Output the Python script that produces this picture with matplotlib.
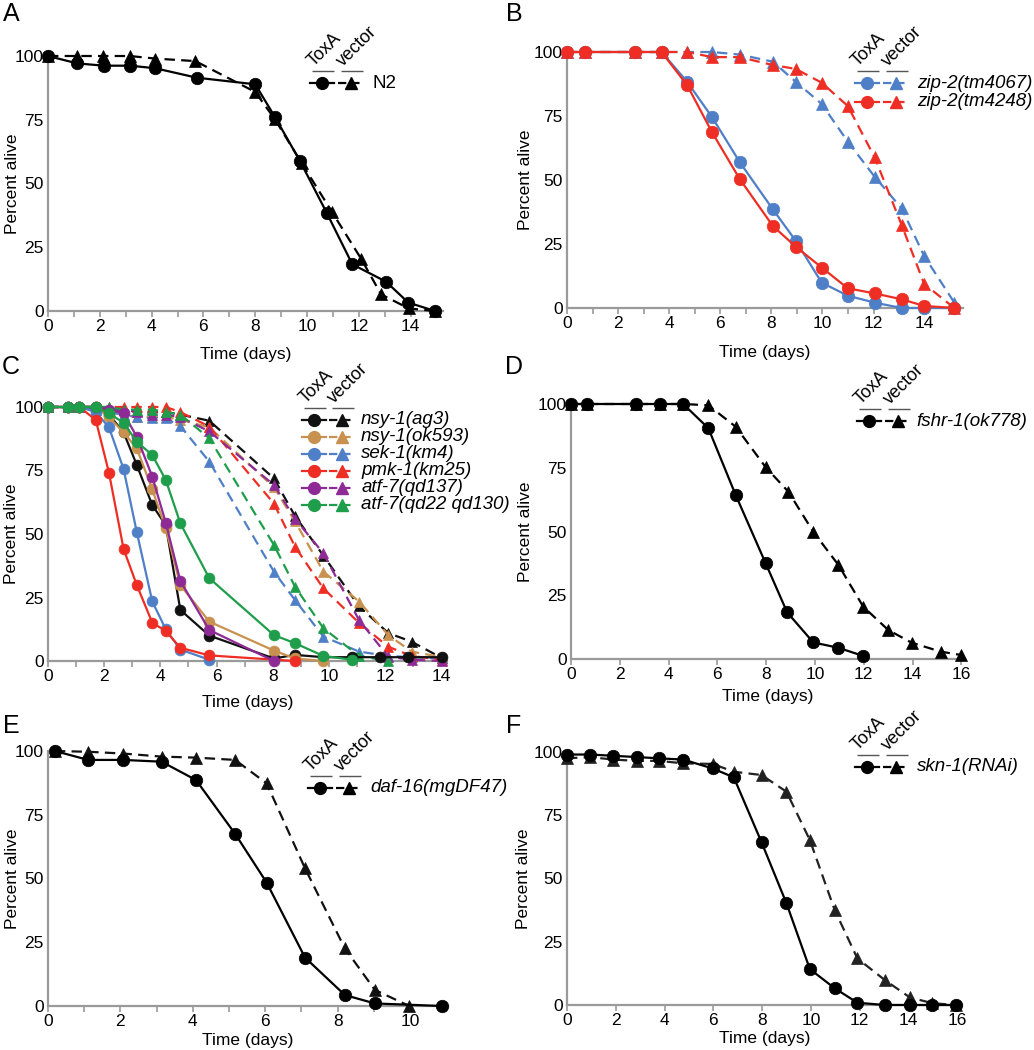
import numpy as np
import matplotlib
matplotlib.use("Agg")
import matplotlib.pyplot as plt
from matplotlib.transforms import offset_copy

plt.rcParams['font.family'] = ['Liberation Sans', 'DejaVu Sans']
plt.rcParams['lines.scale_dashes'] = False

# ---------------- data ----------------
# Panel A (N2)
a_t_toxa = [0, 1.13, 2.16, 3.17, 4.14, 5.74, 8.0, 8.76, 9.73, 10.76, 11.75, 13.05, 13.91, 14.94]
a_toxa = [100, 97.1, 96.2, 96.2, 95.2, 91.5, 88.9, 76.1, 58.8, 38.5, 18.3, 11.5, 3.3, 0]
a_t_vec = [0, 1.13, 2.14, 3.16, 4.13, 5.69, 8.0, 8.76, 9.8, 10.96, 12.1, 12.86, 13.93, 14.94]
a_vec = [100, 100, 100, 100, 99, 98, 85.9, 75.2, 57.9, 38.9, 20.3, 6.5, 1, 0]

# Panel B (zip-2)
b_t = [0, 0.70, 2.68, 3.70, 4.70, 5.68, 6.76, 8.06, 8.95, 9.97, 10.99, 12.04, 13.10, 13.98, 15.16]
b_toxa_4067 = [100, 100, 100, 100, 88.4, 74.5, 57.0, 38.5, 26.3, 9.9, 4.8, 2.1, 0, 0, 0]
b_toxa_4248 = [100, 100, 100, 100, 87.1, 68.6, 50.4, 32.0, 24.0, 15.8, 7.7, 5.7, 3.4, 0.8, 0]
b_vec_4067 = [100, 100, 100, 100, 100, 100, 99, 96.2, 88.4, 79.7, 65.0, 51.3, 38.9, 20.3, 2.1]
b_vec_4248 = [100, 100, 100, 100, 100, 98, 98, 94.9, 93.4, 88.0, 78.9, 58.9, 32.4, 9.4, 0]

# Panel C (p38 MAPK pathway)
c_t_toxa = [0, 0.70, 1.12, 1.70, 2.17, 2.69, 3.16, 3.71, 4.19, 4.71, 5.74, 8.04, 8.79, 9.80, 10.81, 11.81, 12.82, 14.01]
c_t_vec = [0, 0.70, 1.12, 1.70, 2.17, 2.69, 3.16, 3.71, 4.19, 4.71, 5.74, 8.04, 8.79, 9.80, 11.07, 12.11, 12.94, 14.01]
nan = float('nan')
c_strains = ['nsy-1(ag3)', 'nsy-1(ok593)', 'sek-1(km4)', 'pmk-1(km25)', 'atf-7(qd137)', 'atf-7(qd22 qd130)']
c_colors = ['#111111', '#C8914F', '#4F7FC6', '#EE2E24', '#8E2A96', '#1E9E4A']
c_toxa = [
    [100, 100, 100, 100, 97, 90, 77.2, 61.4, 53.5, 20.1, 10.0, 1.0, 2.4, 1.5, 1.5, 1.5, 1.5, 1.5],
    [100, 100, 100, 100, 96, 90, 83.7, 67.6, 52.2, 29.9, 15.5, 4.1, 1.0, 0, nan, nan, nan, nan],
    [100, 100, 100, 98, 92, 75.6, 50.7, 23.5, 12.5, 4.5, 0.5, nan, nan, nan, nan, nan, nan, nan],
    [100, 100, 100, 94.9, 74.1, 44.1, 29.9, 15.1, 11.8, 5.2, 2.2, nan, 0, nan, nan, nan, nan, nan],
    [100, 100, 100, 100, 99, 97.5, 88.3, 72.6, 54.5, 31.5, 12.2, 0, nan, nan, nan, nan, nan, nan],
    [100, 100, 100, 100, 97.5, 93.8, 86.3, 81.1, 71.3, 54.2, 32.6, 10.2, 7.0, 2.0, 0.5, nan, nan, nan],
]
c_vec = [
    [100, 100, 100, 100, 99, 99, 98.5, 98, 98, 97, 94.6, 71.9, 57.1, 41.5, 21.5, 11, 7.6, 1.2],
    [100, 100, 100, 100, 98, 97, 96, 96, 96, 95, 92, 68.4, 55, 35.2, 23.4, 10.2, 3.7, 1.5],
    [100, 100, 100, 99, 98, 97, 96, 95.5, 95.5, 92.5, 78.5, 35.2, 24.0, 9.6, 3.7, 2, 1.5, 1],
    [100, 100, 100, 100, 100, 100, 100, 100, 100, 98, 92.3, 62, 45, 28.6, 15, 5.6, 2, 0.5],
    [100, 100, 100, 100, 99, 99, 98, 97, 97, 96, 90.4, 69.3, 56, 42.4, 16.1, 1.7, 0.5, 0],
    [100, 100, 100, 100, 100, 99, 99, 99, 98, 97, 87.7, 45.7, 29.3, 12.9, 2, 0, nan, nan],
]

# Panel D (fshr-1)
d_t_toxa = [0, 0.67, 2.65, 3.65, 4.60, 5.63, 6.75, 7.98, 8.86, 9.93, 10.96, 11.98]
d_toxa = [100, 100, 100, 100, 100, 90.5, 64.3, 37.5, 18.3, 6.5, 4.4, 1.2]
d_t_vec = [0, 0.67, 2.65, 3.65, 4.60, 5.63, 6.75, 7.98, 8.91, 9.93, 10.96, 11.98, 13.0, 13.96, 15.15, 15.97]
d_vec = [100, 100, 100, 100, 100, 99.5, 91.1, 75.2, 65.6, 49.9, 36.9, 20.5, 11.4, 6.4, 2.9, 1.6]

# Panel E (daf-16)
e_t = [0.19, 1.11, 2.08, 3.14, 4.09, 5.17, 6.04, 7.10, 8.20, 9.03, 9.98, 10.88]
e_toxa = [100, 96.5, 96.5, 95.8, 88.6, 67.5, 48.4, 19.0, 4.3, 1.0, nan, 0]
e_vec = [100, 99.7, 99, 97.8, 97.4, 96.5, 87.3, 54.0, 22.6, 6.3, 0, nan]

# Panel F (skn-1 RNAi)
f_t = [0, 0.94, 1.90, 2.86, 3.78, 4.77, 5.97, 6.84, 7.98, 9.0, 9.96, 10.98, 11.91, 13.03, 14.06, 14.99, 15.97]
f_toxa = [99, 99, 98.5, 98, 97.5, 97, 93.5, 90, 64.3, 40.2, 14.2, 6.6, 0.9, 0, 0, 0, 0]
f_vec = [97.5, 98, 97, 96.5, 96.5, 95.5, 95.3, 92.2, 90.9, 84.3, 65.2, 37.5, 18.4, 9.9, 3.0, 0.7, 0]

# ---------------- styling helpers ----------------
W, H = 1034, 1050
fig = plt.figure(figsize=(W / 100, H / 100), dpi=100)
GRAY = '#9a9a9a'
DASH = (0, (7.5, 4.5))


def make_axes(left, right, top, bottom, xmax, minor_every_day, xlabel_off, ylabel_off):
    ax = fig.add_axes([left / W, 1 - bottom / H, (right - left) / W, (bottom - top) / H])
    ax.set_xlim(0, xmax)
    ax.set_ylim(0, 100)
    for s in ['top', 'right']:
        ax.spines[s].set_visible(False)
    for s in ['left', 'bottom']:
        ax.spines[s].set_color(GRAY)
        ax.spines[s].set_linewidth(1.6)
    ax.set_yticks([0, 25, 50, 75, 100])
    xmaj = np.arange(0, int(xmax) + 1, 2)
    ax.set_xticks(xmaj)
    if minor_every_day:
        ax.set_xticks(np.arange(1, int(xmax) + 1, 2), minor=True)
    ax.tick_params(axis='x', which='both', direction='out', length=4, width=1.2,
                   color=GRAY, labelsize=12.5, pad=2)
    ax.tick_params(axis='y', length=0, labelsize=12.5, pad=3)
    ax.set_xlabel('Time (days)', fontsize=12.5)
    ax.set_ylabel('Percent alive', fontsize=12.5)
    ax.xaxis.label.set_va('center')
    ax.yaxis.label.set_va('center')
    axh = bottom - top
    axw = right - left
    ax.xaxis.set_label_coords(0.5, -xlabel_off / axh)
    ax.yaxis.set_label_coords(-ylabel_off / axw, 0.5)
    return ax


def series(ax, t, y, color, dashed, marker, ms, z=3):
    t = np.asarray(t, float)
    y = np.asarray(y, float)
    m = np.isfinite(y)
    ax.plot(t[m], y[m], color=color, linestyle=DASH if dashed else '-', lw=1.6,
            marker=marker, ms=ms, mec=color, mfc=color, mew=0.5, clip_on=False, zorder=z)


def legend(ax, fx, fy, labels, colors, italic=True, dy=17.5, tri=29, txt=50):
    def tr(dx, dyy):
        return offset_copy(ax.transAxes, fig=fig, x=dx, y=dyy, units='dots')
    # header
    kw = dict(clip_on=False, color='#555555', lw=1.0, solid_capstyle='butt')
    ax.plot([fx, fx], [fy, fy], alpha=0)
    ax.add_line(plt.Line2D([-10, 12], [12, 12], transform=tr(0, 0) + offset_zero(ax, fx, fy), **kw))
    ax.add_line(plt.Line2D([tri - 10, tri + 12], [12, 12], transform=tr(0, 0) + offset_zero(ax, fx, fy), **kw))
    ax.text(fx, fy, 'ToxA', transform=tr(-9, 16), rotation=45, rotation_mode='anchor',
            ha='left', va='baseline', fontsize=13, clip_on=False)
    ax.text(fx, fy, 'vector', transform=tr(tri - 8, 16), rotation=45, rotation_mode='anchor',
            ha='left', va='baseline', fontsize=13, clip_on=False)
    for i, (lab, c) in enumerate(zip(labels, colors)):
        off = offset_zero(ax, fx, fy)
        yy = -i * dy
        ax.add_line(plt.Line2D([-12, 0, 12], [yy, yy, yy], color=c, lw=1.6, marker='o', markevery=[1],
                               ms=8.5, mfc=c, mec=c, transform=tr(0, 0) + off, clip_on=False))
        ax.add_line(plt.Line2D([tri - 13, tri, tri + 13], [yy, yy, yy], color=c, lw=1.6, ls=(0, (6, 3.5)),
                               marker='^', markevery=[1], ms=8, mfc=c, mec=c,
                               transform=tr(0, 0) + off, clip_on=False))
        ax.text(fx, fy, lab, transform=tr(txt, yy), ha='left', va='center', fontsize=13.5,
                style='italic' if italic else 'normal', clip_on=False)


from matplotlib.transforms import Affine2D


def offset_zero(ax, fx, fy):
    # translate pixel-offset coordinates to the anchor point (axes fraction fx, fy)
    x0, y0 = ax.transAxes.transform((fx, fy))
    return Affine2D().translate(x0, y0)


def legend2(ax, fx, fy, labels, colors, italic=True, dy=17.5, tri=29, txt=50):
    # all legend elements are laid out in pixel offsets from the anchor
    x0, y0 = ax.transAxes.transform((fx, fy))
    base = Affine2D().translate(x0, y0)
    kw = dict(clip_on=False, color='#555555', lw=1.0, solid_capstyle='butt', transform=base)
    ax.add_line(plt.Line2D([-10, 12], [12, 12], **kw))
    ax.add_line(plt.Line2D([tri - 10, tri + 12], [12, 12], **kw))
    ax.text(-9, 16, 'ToxA', transform=base, rotation=45, rotation_mode='anchor',
            ha='left', va='baseline', fontsize=13, clip_on=False)
    ax.text(tri - 8, 16, 'vector', transform=base, rotation=45, rotation_mode='anchor',
            ha='left', va='baseline', fontsize=13, clip_on=False)
    for i, (lab, c) in enumerate(zip(labels, colors)):
        yy = -i * dy
        ax.add_line(plt.Line2D([-12, 0, 12], [yy, yy, yy], color=c, lw=1.6, marker='o', markevery=[1],
                               ms=8.5, mfc=c, mec=c, transform=base, clip_on=False))
        ax.add_line(plt.Line2D([tri - 13, tri, tri + 13], [yy, yy, yy], color=c, lw=1.6, ls=(0, (6, 3.5)),
                               marker='^', markevery=[1], ms=8, mfc=c, mec=c,
                               transform=base, clip_on=False))
        ax.text(txt, yy, lab, transform=base, ha='left', va='center', fontsize=13.5,
                style='italic' if italic else 'normal', clip_on=False)


# ---------------- panels ----------------
axA = make_axes(48, 443, 56, 311, 15.25, True, 44, 36)
axB = make_axes(567, 963, 52, 308, 15.5, True, 44, 42)
axC = make_axes(48, 447, 407, 661, 14.2, True, 41, 36)
axD = make_axes(571, 965, 404, 659, 16.15, False, 38, 46)
axE = make_axes(48, 448, 751, 1006, 11.05, True, 34, 36)
axF = make_axes(567, 962, 752, 1005, 16.2, False, 33, 44)

# A
series(axA, a_t_vec, a_vec, 'black', True, '^', 8)
series(axA, a_t_toxa, a_toxa, 'black', False, 'o', 9)
# B
BLUE, RED = '#4F7FC6', '#EE2E24'
series(axB, b_t, b_vec_4067, BLUE, True, '^', 8)
series(axB, b_t, b_vec_4248, RED, True, '^', 8)
series(axB, b_t, b_toxa_4067, BLUE, False, 'o', 9)
series(axB, b_t, b_toxa_4248, RED, False, 'o', 9)
# C
for yv, c in zip(c_vec, c_colors):
    series(axC, c_t_vec, yv, c, True, '^', 7.5)
for yv, c in zip(c_toxa, c_colors):
    series(axC, c_t_toxa, yv, c, False, 'o', 7.8)
# D
series(axD, d_t_vec, d_vec, 'black', True, '^', 8)
series(axD, d_t_toxa, d_toxa, 'black', False, 'o', 9)
# E
series(axE, e_t, e_vec, '#111111', True, '^', 8)
series(axE, e_t, e_toxa, 'black', False, 'o', 9)
# F
series(axF, f_t, f_vec, '#222222', True, '^', 8)
series(axF, f_t, f_toxa, 'black', False, 'o', 9)

# legends (anchor = first row circle centre, axes fraction)
legend2(axA, 0.694, 0.894, ['N2'], ['black'], italic=False)
legend2(axB, 0.757, 0.878, ['zip-2(tm4067)', 'zip-2(tm4248)'], [BLUE, RED], dy=18.4)
legend2(axC, 0.667, 0.949, c_strains, c_colors, dy=17, tri=28, txt=47)
legend2(axD, 0.757, 0.933, ['fshr-1(ok778)'], ['black'], tri=29, txt=47)
legend2(axE, 0.68, 0.856, ['daf-16(mgDF47)'], ['black'])
legend2(axF, 0.759, 0.942, ['skn-1(RNAi)'], ['black'])

# panel letters
for lab, x, y in [('A', 11, 14), ('B', 514, 14), ('C', 11, 367), ('D', 514, 367), ('E', 11, 726), ('F', 514, 726)]:
    fig.text(x / W, 1 - y / H, lab, fontsize=18, ha='center', va='center')

fig.savefig('out.png', dpi=100)
